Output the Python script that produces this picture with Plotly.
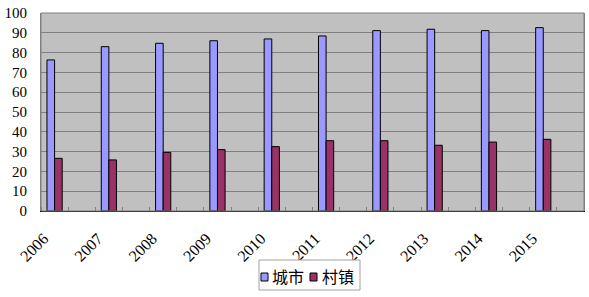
import plotly.graph_objects as go

years = ["2006", "2007", "2008", "2009", "2010", "2011", "2012", "2013", "2014", "2015"]
city = [76.3, 83.0, 84.7, 86.0, 86.9, 88.4, 91.1, 91.8, 91.1, 92.6]
town = [26.6, 25.8, 29.6, 31.0, 32.5, 35.5, 35.5, 33.2, 34.8, 36.2]
series_names = ["城市", "村镇"]
series_colors = ["#9999FF", "#993366"]

W, H = 589, 297
ML, MR, MT, MB = 41, 5, 13, 86
PW, PH = W - ML - MR, H - MT - MB


def px(x):
    return (x - ML) / PW


def py(y):
    return (H - MB - y) / PH


xpos = [2 * i for i in range(len(years))]
label_pos = [x - 0.4 for x in xpos]

fig = go.Figure()
for name, vals, col in zip(series_names, [city, town], series_colors):
    fig.add_trace(go.Bar(x=xpos, y=vals, name=name, showlegend=False,
                         marker=dict(color=col, line=dict(color="black", width=1))))

serif = "Liberation Serif, DejaVu Serif, serif"
fig.update_layout(
    width=W, height=H,
    margin=dict(l=ML, r=MR, t=MT, b=MB),
    paper_bgcolor="white", plot_bgcolor="#C0C0C0",
    barmode="group", bargap=0.72, bargroupgap=0,
    font=dict(family=serif, size=14, color="black"),
    showlegend=False,
)
fig.update_xaxes(
    range=[-0.5, 19.5], tickmode="array", tickvals=label_pos, ticktext=years,
    tickangle=-45, ticks="", showgrid=False, zeroline=False, automargin=False,
    showline=True, linecolor="black", linewidth=1, ticklabelstandoff=11,
    tickfont=dict(family=serif, size=16),
    minor=dict(tick0=-0.5, dtick=1, ticks="inside", ticklen=4, tickcolor="#808080", showgrid=False),
)
fig.update_yaxes(
    range=[0, 100], dtick=10, showgrid=True, gridcolor="#808080", gridwidth=1,
    zeroline=False, showline=True, linecolor="#808080", linewidth=1, mirror=True,
    ticks="", ticklabelstandoff=10, automargin=False, tickfont=dict(family=serif, size=15),
)
fig.add_shape(type="rect", xref="paper", yref="paper", x0=0, y0=0, x1=1, y1=1,
              line=dict(color="#808080", width=1))

# legend (manual, Excel style)
fig.add_shape(type="rect", xref="paper", yref="paper",
              x0=px(259), x1=px(360), y0=py(290), y1=py(260),
              line=dict(color="#A0A0A0", width=1), fillcolor="white")
sq = [(261, 268), (310, 317)]
tx = [270, 320]
for (a, b), t, name, col in zip(sq, tx, series_names, series_colors):
    fig.add_shape(type="rect", xref="paper", yref="paper",
                  x0=px(a), x1=px(b), y0=py(281), y1=py(273),
                  line=dict(color="black", width=1), fillcolor=col)
    fig.add_annotation(text=name, xref="paper", yref="paper", x=px(t), y=py(276),
                       xanchor="left", yanchor="middle", showarrow=False,
                       font=dict(family="Noto Sans CJK SC", size=16, color="black"))
fig.write_html("out.html", config={"displayModeBar": False},
               post_script="document.body.style.margin='0px';")
